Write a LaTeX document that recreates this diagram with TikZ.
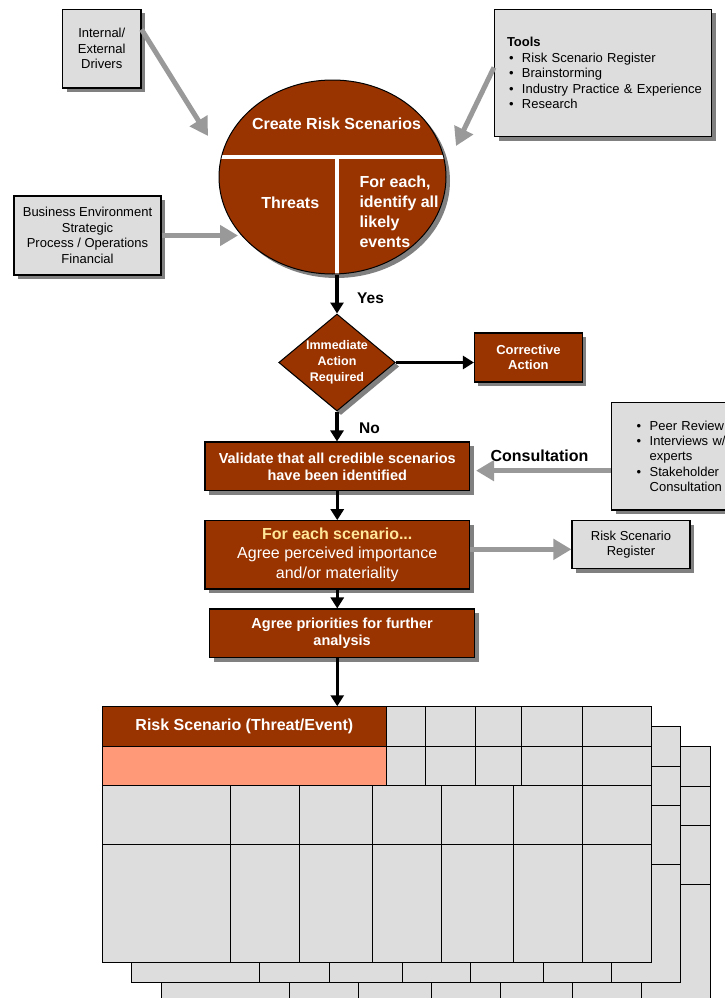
\documentclass[tikz,border=0pt]{standalone}
\usepackage{fontspec}
\setmainfont{Liberation Sans}
\usetikzlibrary{shapes.geometric,arrows.meta,shadows,calc}

\definecolor{rust}{RGB}{153,51,0}
\definecolor{salmon}{RGB}{255,153,119}
\definecolor{panel}{RGB}{221,221,221}
\definecolor{guide}{RGB}{153,153,153}
\definecolor{shadowgray}{RGB}{128,128,128}
\definecolor{cream}{RGB}{255,230,153}

\newcommand\fsz[2]{\fontsize{#1}{#2}\selectfont}
\newcommand\bul{\makebox[13pt][l]{\textbullet}}

% one sheet of the scenario table (grey grid)
\newcommand\sheetgrid{%
  \draw[sheetline,fill=panel] (102,706.7) rectangle (651,962.3);
  \draw[sheetline] (102,746) -- (651,746);
  \draw[sheetline] (102,785.7) -- (651,785.7);
  \draw[sheetline] (102,844.3) -- (651,844.3);
  \foreach \cx in {386.8,425.6,475,521.5,582.4}
    \draw[sheetline] (\cx,706.7) -- (\cx,785.7);
  \foreach \cx in {230.2,299.8,372.6,441,513.8,582.4}
    \draw[sheetline] (\cx,785.7) -- (\cx,962.3);
}

\tikzset{
  boxshadow/.style={drop shadow={shadow xshift=4pt,shadow yshift=-4pt,fill=shadowgray,opacity=1}},
  graybox/.style={rectangle,draw=black,line width=1.1pt,fill=panel,inner sep=0pt,
    boxshadow,align=center,font=\fsz{13}{15.5}},
  rustbox/.style={rectangle,draw=black,line width=1.1pt,fill=rust,text=white,
    inner sep=0pt,boxshadow,align=center},
  flow/.style={line width=3.5pt,-{Triangle[length=11pt,width=13pt]}},
  feed/.style={draw=guide,line width=5pt,-{Triangle[length=18pt,width=20pt]},color=guide},
  sheetline/.style={line width=0.9pt},
  tag/.style={inner sep=0pt,font=\bfseries\fsz{15.5}{18}},
}

\begin{document}
\begin{tikzpicture}[x=1pt,y=-1pt]
\useasboundingbox (0,0) rectangle (725,998);
\clip (0,0) rectangle (725,998);

% ---- inputs around the scenario ellipse
\node[graybox,minimum width=78.5pt,minimum height=78.7pt] (drivers) at (101.75,48.65)
  {Internal/\\External\\Drivers};
\node[graybox,minimum width=217pt,minimum height=127.4pt,align=left,
      text width=210pt,inner xsep=3.5pt,font=\fsz{13}{15.6}] (tools) at (603,73)
  {\hspace*{9pt}\textbf{Tools}\\
   \hspace*{11pt}\bul Risk Scenario Register\\
   \hspace*{11pt}\bul Brainstorming\\
   \hspace*{11pt}\bul Industry Practice \& Experience\\
   \hspace*{11pt}\bul Research};
\node[graybox,minimum width=147pt,minimum height=79pt] (business) at (87.5,235.5)
  {Business Environment\\Strategic\\Process / Operations\\Financial};

% ---- scenario ellipse split in three parts
\node[ellipse,draw=black,line width=1pt,fill=rust,minimum width=227pt,
      minimum height=194pt,inner sep=0pt,boxshadow] (create) at (332.5,177) {};
\begin{scope}
  \clip (332.5,177) ellipse [x radius=113pt,y radius=96.5pt];
  \draw[white,line width=4pt] (200,157) -- (460,157);
  \draw[white,line width=4pt] (337,157) -- (337,290);
\end{scope}
\node[text=white,font=\bfseries\fsz{16}{20}] (crtitle) at (336.5,124) {Create Risk Scenarios};
\node[text=white,font=\bfseries\fsz{16}{20}] (threats) at (290.3,202.7) {Threats};
\node[text=white,font=\bfseries\fsz{16}{20},align=left,anchor=west,inner sep=0pt]
  (events) at (359.3,212) {For each,\\identify all\\likely\\events};

% ---- decision
\node[diamond,draw=black,line width=1pt,fill=rust,minimum width=116.5pt,
      minimum height=97pt,inner sep=0pt,aspect=1.2,text=white,
      font=\bfseries\fsz{12.5}{16},align=center,boxshadow] (decide) at (337,362.5)
  {Immediate\\Action\\Required};
\node[rustbox,minimum width=108pt,minimum height=49pt,font=\bfseries\fsz{13}{15}]
  (corrective) at (528.45,357.5) {Corrective\\Action};

% ---- process steps
\node[rustbox,minimum width=264.5pt,minimum height=48.7pt,font=\bfseries\fsz{14.5}{17}]
  (validate) at (337.25,466.35) {Validate that all credible scenarios\\have been identified};
\node[graybox,minimum width=145pt,minimum height=107.7pt,align=left,text width=95pt,
      inner xsep=25pt,font=\fsz{13}{15.3}] (peer) at (684.2,456.15)
  {\bul Peer Review\\
   \bul Interviews w/\\
   \hspace*{13pt}experts\\
   \bul Stakeholder\\
   \hspace*{13pt}Consultation};
\node[inner sep=0pt,font=\bfseries\fsz{16}{19}] (consult) at (539.5,455.7) {Consultation};

\node[rustbox,minimum width=264.5pt,minimum height=68.3pt,font=\fsz{16}{19.5}]
  (foreach) at (337.25,554.85)
  {\textcolor{cream}{\textbf{For each scenario...}}\\Agree perceived importance\\and/or materiality};
\node[graybox,minimum width=118pt,minimum height=48pt,font=\fsz{13}{14.6}] (register)
  at (631,544.7) {Risk Scenario\\Register};

\node[rustbox,minimum width=265.2pt,minimum height=48.7pt,font=\bfseries\fsz{14.5}{17}]
  (agree) at (342.1,633.35) {Agree priorities for further\\analysis};

% ---- stacked scenario table sheets
\begin{scope}[shift={(59,40)}] \sheetgrid \end{scope}
\begin{scope}[shift={(29.5,20)}] \sheetgrid \end{scope}
\sheetgrid
\node[draw=black,line width=0.9pt,fill=rust,minimum width=284.8pt,minimum height=39.3pt,
      inner sep=0pt,text=white,font=\bfseries\fsz{16}{19}] (rstitle) at (244.4,726.35)
  {Risk Scenario (Threat/Event)};
\node[draw=black,line width=0.9pt,fill=salmon,minimum width=284.8pt,minimum height=39.7pt,
      inner sep=0pt] (rsrow) at (244.4,765.85) {};

% ---- grey input arrows
\coordinate (tipA) at (208,136);
\coordinate (tipB) at (456,146);
\coordinate (tipC) at (238,235.5);
\draw[feed] ([yshift=-20.7pt]drivers.north east) -- (tipA);
\draw[feed] ([yshift=-58.7pt]tools.north west) -- (tipB);
\draw[feed] (business.east) -- (tipC);
\coordinate (cA) at ([yshift=-14.5pt]peer.west);
\draw[feed,shorten >=6pt] (cA) -- (cA -| validate.east);
\coordinate (cB) at ([yshift=5.5pt]foreach.east);
\draw[feed] (cB) -- (cB -| register.west);

% ---- main flow
\draw[flow] (decide.north |- create.south) -- (decide.north);
\node[tag,anchor=west] (yes) at (357,298) {Yes};
\draw[flow] (decide.east) -- (decide.east -| corrective.west);
\draw[flow] (decide.south) -- (decide.south |- validate.north);
\node[tag,anchor=west] (no) at (359,428) {No};
\draw[flow] (validate.south) -- (validate.south |- foreach.north);
\draw[flow] (foreach.south) -- (foreach.south |- agree.north);
\draw[flow] (foreach.south |- agree.south) -- (foreach.south |- rstitle.north);
\end{tikzpicture}
\end{document}
